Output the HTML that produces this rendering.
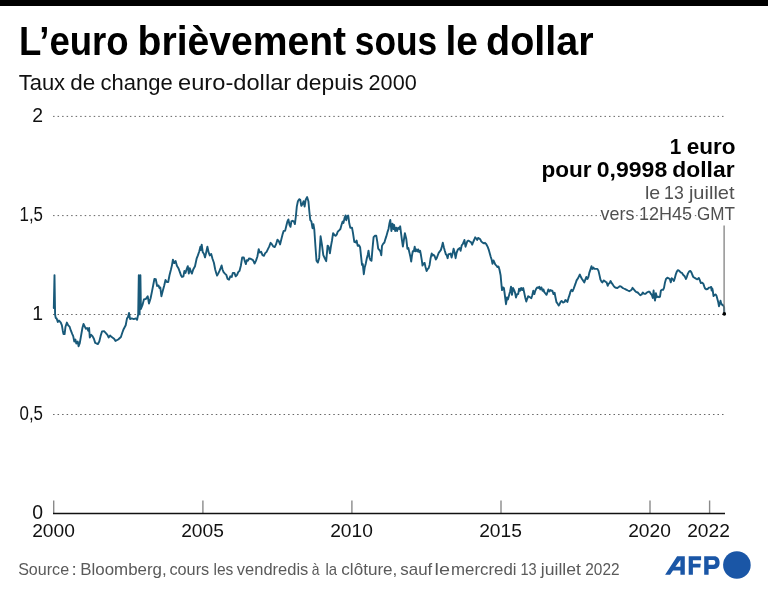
<!DOCTYPE html>
<html><head><meta charset="utf-8"><title>L’euro brièvement sous le dollar</title>
<style>
html,body{margin:0;padding:0;background:#fff;}
body{width:768px;height:593px;overflow:hidden;}
svg{display:block;font-family:"Liberation Sans", sans-serif;will-change:transform;}
</style></head><body>
<svg width="768" height="593" viewBox="0 0 768 593">
<rect x="0" y="0" width="768" height="593" fill="#fff"/>
<rect x="0" y="0" width="768" height="6" fill="#000"/>
<g font-size="40" font-weight="bold" fill="#000">
<text x="19.03" y="54.7" textLength="109.66" lengthAdjust="spacingAndGlyphs">L’euro</text>
<text x="137.56" y="54.7" textLength="208.55" lengthAdjust="spacingAndGlyphs">brièvement</text>
<text x="354.86" y="54.7" textLength="82.40" lengthAdjust="spacingAndGlyphs">sous</text>
<text x="445.48" y="54.7" textLength="32.45" lengthAdjust="spacingAndGlyphs">le</text>
<text x="486.12" y="54.7" textLength="107.48" lengthAdjust="spacingAndGlyphs">dollar</text>
</g>
<g font-size="21.5" fill="#111">
<text x="18.69" y="89.7" textLength="46.43" lengthAdjust="spacingAndGlyphs">Taux</text>
<text x="70.36" y="89.7" textLength="25.00" lengthAdjust="spacingAndGlyphs">de</text>
<text x="100.58" y="89.7" textLength="72.18" lengthAdjust="spacingAndGlyphs">change</text>
<text x="178.01" y="89.7" textLength="113.21" lengthAdjust="spacingAndGlyphs">euro-dollar</text>
<text x="295.94" y="89.7" textLength="67.47" lengthAdjust="spacingAndGlyphs">depuis</text>
<text x="368.59" y="89.7" textLength="48.14" lengthAdjust="spacingAndGlyphs">2000</text>
</g>
<g stroke="#666" stroke-width="1" stroke-dasharray="1.5 3.02" fill="none">
<line x1="53.05" y1="116.4" x2="725" y2="116.4"/>
<line x1="53.05" y1="215.6" x2="725" y2="215.6"/>
<line x1="53.05" y1="314.5" x2="725" y2="314.5"/>
<line x1="53.05" y1="414.5" x2="725" y2="414.5"/>
</g>
<g font-size="19.4" fill="#111" text-anchor="end">
<text x="43" y="121.5">2</text>
<text x="43" y="221" textLength="23.5" lengthAdjust="spacingAndGlyphs">1,5</text>
<text x="43" y="319.9">1</text>
<text x="43" y="419.8" textLength="23.5" lengthAdjust="spacingAndGlyphs">0,5</text>
<text x="43" y="518.7">0</text>
</g>
<g stroke="#8a8a8a" stroke-width="1.4">
<line x1="53.7" y1="500.5" x2="53.7" y2="513"/>
<line x1="202.9" y1="500.5" x2="202.9" y2="513"/>
<line x1="351.9" y1="500.5" x2="351.9" y2="513"/>
<line x1="501" y1="500.5" x2="501" y2="513"/>
<line x1="650" y1="500.5" x2="650" y2="513"/>
<line x1="709.6" y1="500.5" x2="709.6" y2="513"/>
</g>
<line x1="53" y1="513.5" x2="725" y2="513.5" stroke="#111" stroke-width="1.3"/>
<g font-size="19.2" fill="#111" text-anchor="middle">
<text x="53.5" y="537.4">2000</text>
<text x="202.5" y="537.4">2005</text>
<text x="351.5" y="537.4">2010</text>
<text x="500.5" y="537.4">2015</text>
<text x="649.5" y="537.4">2020</text>
<text x="708.5" y="537.4">2022</text>
</g>
<path d="M53.8,308.0 L54.5,275.1 L55.1,314.5 L55.7,317.9 L56.7,318.6 L57.8,322.0 L58.8,320.6 L59.7,321.3 L60.8,322.6 L61.9,325.3 L62.8,330.7 L63.5,334.1 L64.6,334.1 L65.5,326.7 L66.9,322.6 L68.2,325.3 L69.6,326.7 L70.9,330.7 L72.3,334.1 L73.2,336.1 L74.3,341.5 L75.4,339.5 L76.3,343.5 L77.7,341.5 L78.6,346.2 L79.7,343.5 L81.0,336.1 L82.4,328.0 L83.5,324.0 L84.8,326.7 L85.8,328.7 L87.1,328.0 L88.2,330.7 L89.1,328.0 L89.8,337.5 L91.2,334.8 L92.5,336.1 L93.9,338.8 L95.2,342.9 L96.6,343.5 L97.9,344.0 L99.3,341.5 L100.6,336.1 L102.0,331.4 L104.1,331.2 L106.1,333.3 L107.4,334.8 L108.7,337.5 L110.1,335.5 L111.4,336.8 L114.1,338.8 L115.5,340.9 L118.2,339.5 L120.9,337.0 L122.2,333.0 L123.6,329.2 L125.7,325.2 L127.0,318.4 L128.0,317.1 L129.0,313.0 L130.1,319.1 L131.7,318.4 L133.8,319.1 L135.8,318.4 L137.1,319.8 L138.2,314.4 L138.8,275.2 L139.6,314.4 L140.4,275.2 L140.9,309.0 L142.5,304.9 L143.9,299.5 L145.9,298.9 L147.7,296.2 L149.0,303.6 L150.6,298.2 L152.0,291.4 L153.3,284.7 L154.4,279.0 L155.8,279.3 L157.1,286.0 L158.5,285.4 L159.4,288.0 L160.3,287.4 L161.4,296.2 L162.8,290.8 L164.1,286.0 L165.5,280.0 L166.8,282.0 L168.2,282.0 L169.5,275.2 L170.9,269.8 L172.0,265.1 L172.9,259.7 L174.2,263.1 L175.6,261.1 L176.9,265.8 L178.4,268.2 L179.7,271.6 L181.1,275.6 L182.0,277.0 L183.4,276.3 L184.4,270.9 L185.5,272.9 L186.5,269.5 L187.8,266.2 L188.8,273.6 L189.8,268.2 L190.9,271.6 L191.9,273.6 L193.2,269.5 L195.0,266.2 L196.6,258.7 L197.9,255.4 L199.3,251.3 L200.4,246.6 L201.0,250.0 L201.7,244.6 L202.7,252.0 L204.0,254.0 L205.0,257.4 L206.0,253.3 L207.4,246.6 L208.7,252.7 L209.8,255.4 L211.2,254.0 L212.5,258.7 L213.9,262.8 L215.2,269.5 L216.2,272.9 L217.1,275.6 L218.2,273.6 L219.5,270.9 L220.6,268.2 L221.6,265.5 L222.5,269.5 L223.6,272.2 L224.9,273.6 L226.3,274.9 L227.6,279.0 L229.0,279.7 L230.3,276.3 L231.7,277.0 L232.8,272.9 L234.4,272.9 L235.7,276.3 L237.1,274.9 L238.2,272.2 L239.5,270.9 L240.9,265.5 L242.2,257.4 L243.8,257.4 L244.9,261.4 L245.9,264.1 L246.8,260.1 L247.9,260.8 L249.0,258.5 L250.3,258.7 L251.7,259.4 L253.0,260.1 L254.6,263.5 L256.0,260.6 L257.4,256.5 L258.7,249.1 L259.8,252.5 L261.2,251.8 L262.5,255.2 L263.9,255.8 L265.2,253.2 L266.6,251.8 L267.9,249.1 L269.3,246.4 L270.6,242.8 L272.0,244.4 L273.3,246.4 L274.7,247.1 L276.0,244.4 L277.4,239.7 L278.7,241.0 L280.1,244.4 L281.4,239.0 L282.8,233.6 L283.7,230.9 L285.1,230.9 L286.4,225.5 L287.4,221.4 L288.4,219.4 L289.5,224.8 L290.5,226.8 L291.4,221.4 L292.5,220.8 L293.8,221.4 L294.9,224.1 L295.9,216.0 L296.8,206.6 L297.9,201.2 L299.2,199.2 L300.3,199.8 L301.3,205.9 L302.6,203.9 L303.6,201.2 L304.6,206.6 L305.7,199.8 L307.1,197.1 L308.4,201.2 L309.4,212.0 L310.3,220.1 L311.4,221.4 L312.5,228.2 L313.4,224.1 L314.3,229.5 L315.4,245.7 L316.5,260.6 L317.9,262.6 L319.2,257.9 L320.6,236.3 L321.9,244.4 L323.3,255.2 L324.9,258.5 L326.2,261.2 L327.6,245.7 L328.3,246.0 L329.1,248.6 L329.9,253.3 L331.0,245.9 L332.0,240.5 L333.1,233.1 L334.5,235.1 L335.8,235.8 L336.8,234.4 L337.7,231.7 L339.1,230.4 L340.4,229.0 L341.5,225.0 L342.6,221.6 L343.5,222.9 L344.5,218.2 L345.5,215.5 L346.2,220.2 L347.2,216.2 L348.2,215.5 L349.3,223.6 L350.3,227.7 L352.0,227.7 L353.0,233.1 L354.3,241.8 L355.7,242.5 L356.6,240.5 L357.7,245.9 L359.0,245.2 L360.1,247.2 L361.1,256.7 L362.0,264.8 L362.8,264.1 L363.8,274.2 L364.7,267.5 L365.8,263.4 L366.9,258.0 L367.8,254.7 L368.5,250.6 L369.6,258.0 L370.5,260.1 L371.5,260.7 L372.5,248.6 L373.6,237.1 L375.0,235.8 L376.3,235.8 L377.3,241.8 L378.2,248.6 L379.3,249.9 L380.4,251.3 L381.3,255.3 L382.0,245.9 L383.1,243.9 L384.4,242.5 L385.4,239.1 L386.3,236.4 L387.4,232.4 L388.5,229.0 L389.4,223.6 L390.3,220.0 L391.4,231.0 L392.5,223.6 L393.5,229.0 L394.1,225.0 L395.2,231.0 L396.2,227.7 L397.1,231.0 L398.2,227.7 L399.3,229.0 L400.2,226.3 L401.1,233.7 L402.0,240.5 L402.9,246.6 L403.8,240.5 L404.9,233.1 L406.3,239.0 L407.4,248.7 L408.4,248.1 L409.3,252.1 L410.4,256.8 L411.2,261.6 L412.0,255.5 L412.8,251.2 L413.8,251.4 L414.7,246.7 L415.5,251.4 L416.5,249.4 L417.4,251.4 L418.2,249.4 L419.2,252.1 L420.1,250.8 L420.9,254.8 L421.9,260.9 L422.5,265.6 L423.6,263.6 L424.6,262.9 L425.5,267.0 L426.6,271.0 L427.7,269.0 L428.6,268.3 L429.6,264.9 L430.6,258.2 L431.7,253.5 L432.7,255.5 L433.6,254.8 L434.7,256.2 L435.8,259.5 L436.7,258.2 L437.7,255.5 L438.7,252.8 L439.8,251.4 L440.8,250.1 L441.7,247.4 L442.8,242.7 L443.9,247.4 L444.8,250.8 L445.8,254.1 L446.8,255.5 L447.6,258.2 L448.5,254.1 L449.5,254.1 L450.6,253.5 L451.6,257.5 L452.5,254.1 L453.6,248.7 L454.7,252.8 L455.6,258.2 L456.6,252.8 L457.6,250.1 L458.7,248.7 L459.7,248.1 L460.6,250.8 L461.7,245.4 L462.8,244.0 L463.7,242.0 L464.4,240.0 L465.5,246.7 L466.4,244.0 L467.3,241.3 L468.4,240.6 L469.5,241.3 L470.9,242.0 L472.2,244.7 L473.2,242.0 L474.1,240.0 L475.2,237.3 L476.3,238.6 L477.2,240.0 L478.1,237.9 L479.2,238.6 L480.3,239.3 L481.2,241.3 L482.6,242.7 L483.9,243.3 L485.0,242.8 L486.3,244.2 L487.7,246.9 L488.7,249.6 L489.8,253.6 L490.8,257.0 L491.7,259.7 L492.5,263.8 L493.5,260.4 L494.4,262.4 L495.2,264.4 L496.6,265.8 L497.5,267.1 L498.5,266.5 L499.5,269.8 L500.6,275.2 L501.2,282.0 L502.0,290.1 L502.9,287.4 L503.9,288.0 L504.9,295.5 L506.0,304.2 L507.0,297.5 L507.9,299.5 L509.0,295.5 L510.1,291.4 L511.0,286.7 L512.0,294.8 L513.0,288.0 L514.1,290.1 L515.1,292.8 L516.0,297.5 L517.1,294.1 L518.2,294.1 L519.1,288.7 L520.1,290.8 L521.1,288.0 L522.2,290.1 L523.2,288.0 L524.1,292.1 L525.2,297.5 L526.3,301.5 L527.2,298.8 L528.2,296.2 L529.2,296.8 L530.3,297.5 L531.3,298.2 L532.2,295.5 L533.3,290.8 L534.4,294.1 L535.3,290.8 L536.3,288.7 L537.3,287.4 L538.4,288.0 L539.4,286.7 L540.3,289.4 L541.4,287.4 L542.5,290.8 L543.4,289.4 L544.3,292.1 L545.4,293.5 L546.5,294.8 L547.5,292.1 L548.4,289.4 L549.5,291.4 L550.6,290.1 L551.5,290.8 L552.4,290.8 L553.5,294.1 L554.6,292.8 L555.5,297.5 L556.5,302.2 L557.6,303.6 L558.7,305.6 L559.6,304.2 L560.5,302.2 L561.6,300.9 L563.1,302.6 L564.5,302.0 L565.4,300.0 L566.4,300.6 L567.4,302.0 L568.5,297.9 L569.5,295.2 L570.4,291.8 L571.5,289.8 L572.6,291.2 L573.5,289.1 L574.5,286.4 L575.5,283.7 L576.6,280.4 L578.0,278.3 L579.3,275.6 L579.9,274.6 L580.9,277.0 L582.0,279.0 L583.0,280.4 L584.3,282.4 L585.3,279.7 L586.3,277.0 L587.4,279.0 L588.4,277.0 L589.3,272.9 L590.4,269.6 L591.5,266.2 L592.4,268.9 L593.4,267.5 L594.4,268.9 L595.8,268.9 L597.4,268.9 L598.5,270.9 L599.6,275.6 L600.5,279.7 L601.5,281.7 L602.5,282.4 L603.6,280.4 L604.6,281.0 L605.5,281.7 L606.6,282.4 L607.7,285.8 L608.6,283.7 L609.6,283.1 L610.6,281.0 L611.7,283.1 L612.7,284.4 L613.6,285.8 L614.7,287.1 L616.0,287.8 L617.4,288.1 L618.7,287.1 L619.8,286.2 L621.2,286.7 L622.5,287.8 L623.9,288.5 L625.2,289.1 L626.6,289.8 L627.9,290.5 L629.3,291.2 L630.6,290.5 L631.5,289.8 L632.5,287.8 L633.6,289.1 L634.7,290.5 L636.0,291.8 L637.7,292.5 L639.0,293.9 L640.4,295.2 L641.7,294.5 L642.8,292.5 L644.2,293.9 L645.5,293.9 L646.9,292.5 L648.2,291.8 L649.6,291.8 L650.9,293.9 L651.9,295.2 L652.8,297.9 L653.6,290.5 L654.2,296.6 L655.0,300.6 L655.9,293.2 L656.9,297.2 L657.9,296.6 L659.0,297.2 L660.0,296.6 L660.9,290.5 L662.0,289.8 L663.1,289.8 L664.0,287.8 L665.0,282.4 L666.0,279.0 L667.4,277.7 L668.7,278.3 L669.8,279.0 L670.8,282.4 L671.7,278.3 L672.8,279.0 L673.9,281.0 L674.8,278.3 L675.8,274.3 L676.8,271.6 L677.9,270.2 L679.3,270.9 L680.6,272.3 L682.0,272.9 L683.3,275.0 L684.7,276.3 L686.0,279.0 L687.0,276.3 L687.9,273.6 L689.0,271.6 L690.3,270.9 L691.4,272.3 L692.4,275.0 L693.3,277.0 L694.4,277.7 L695.5,278.3 L696.4,279.0 L697.3,279.4 L698.8,278.0 L699.6,279.7 L700.9,283.1 L702.2,282.6 L703.4,283.9 L704.4,286.9 L705.1,288.5 L706.4,289.4 L707.6,289.0 L708.9,287.7 L710.2,287.3 L711.2,286.9 L711.6,290.5 L712.2,288.3 L712.7,290.2 L713.5,296.1 L714.6,294.9 L715.7,294.5 L716.5,295.7 L717.3,298.7 L718.2,302.0 L719.0,306.3 L719.9,303.7 L720.5,300.8 L721.1,303.3 L722.0,304.6 L723.2,305.4 L724.1,307.1 L724.3,313.8" fill="none" stroke="#185979" stroke-width="1.9" stroke-linejoin="round" stroke-linecap="round"/>
<line x1="724.1" y1="225.6" x2="724.1" y2="313.8" stroke="#777" stroke-width="1.2"/>
<circle cx="724.3" cy="313.9" r="1.8" fill="#000"/>
<g font-size="21.5" font-weight="bold" fill="#000">
<text x="669.65" y="153.6" textLength="11.48" lengthAdjust="spacingAndGlyphs">1</text>
<text x="686.76" y="153.6" textLength="48.87" lengthAdjust="spacingAndGlyphs">euro</text>
<text x="541.43" y="177.3" textLength="50.15" lengthAdjust="spacingAndGlyphs">pour</text>
<text x="596.74" y="177.3" textLength="70.47" lengthAdjust="spacingAndGlyphs">0,9998</text>
<text x="672.34" y="177.3" textLength="62.21" lengthAdjust="spacingAndGlyphs">dollar</text>
</g>
<g font-size="19" fill="#505050">
<text x="644.96" y="198.7" textLength="15.26" lengthAdjust="spacingAndGlyphs" stroke="#fff" stroke-width="3" paint-order="stroke">le</text>
<text x="664.10" y="198.7" textLength="19.68" lengthAdjust="spacingAndGlyphs" stroke="#fff" stroke-width="3" paint-order="stroke">13</text>
<text x="688.93" y="198.7" textLength="45.68" lengthAdjust="spacingAndGlyphs" stroke="#fff" stroke-width="3" paint-order="stroke">juillet</text>
<text x="600.61" y="219.6" textLength="33.75" lengthAdjust="spacingAndGlyphs" stroke="#fff" stroke-width="3" paint-order="stroke">vers</text>
<text x="638.97" y="219.6" textLength="53.08" lengthAdjust="spacingAndGlyphs" stroke="#fff" stroke-width="3" paint-order="stroke">12H45</text>
<text x="697.09" y="219.6" textLength="37.98" lengthAdjust="spacingAndGlyphs" stroke="#fff" stroke-width="3" paint-order="stroke">GMT</text>
</g>
<g font-size="17" fill="#5a5a5a">
<text x="18.14" y="575" textLength="50.98" lengthAdjust="spacingAndGlyphs">Source</text>
<text x="71.62" y="575" textLength="5.28" lengthAdjust="spacingAndGlyphs">:</text>
<text x="80.31" y="575" textLength="86.42" lengthAdjust="spacingAndGlyphs">Bloomberg,</text>
<text x="169.43" y="575" textLength="39.82" lengthAdjust="spacingAndGlyphs">cours</text>
<text x="213.49" y="575" textLength="19.88" lengthAdjust="spacingAndGlyphs">les</text>
<text x="236.80" y="575" textLength="71.59" lengthAdjust="spacingAndGlyphs">vendredis</text>
<text x="311.73" y="575" textLength="7.74" lengthAdjust="spacingAndGlyphs">à</text>
<text x="325.44" y="575" textLength="11.60" lengthAdjust="spacingAndGlyphs">la</text>
<text x="341.30" y="575" textLength="56.06" lengthAdjust="spacingAndGlyphs">clôture,</text>
<text x="400.30" y="575" textLength="31.93" lengthAdjust="spacingAndGlyphs">sauf</text>
<text x="434.62" y="575" textLength="15.44" lengthAdjust="spacingAndGlyphs">le</text>
<text x="451.11" y="575" textLength="65.40" lengthAdjust="spacingAndGlyphs">mercredi</text>
<text x="520.48" y="575" textLength="16.22" lengthAdjust="spacingAndGlyphs">13</text>
<text x="540.81" y="575" textLength="40.13" lengthAdjust="spacingAndGlyphs">juillet</text>
<text x="585.28" y="575" textLength="34.27" lengthAdjust="spacingAndGlyphs">2022</text>
</g>
<g fill="#1a56a6">
<path fill-rule="evenodd" d="M665.1,574.8 L677.1,556.2 L684.8,556.2 L684.8,574.8 L680.4,574.8 L680.4,570.4 L673,570.4 L670.1,574.8 Z M680.4,559.9 L675.4,566.7 L680.4,566.7 Z"/>
<path d="M688.7,556.2 L701.1,556.2 L701.1,560.3 L692.9,560.3 L692.9,563.7 L700.7,563.7 L700.3,567.6 L692.9,567.6 L692.9,574.8 L688.7,574.8 Z"/>
<path fill-rule="evenodd" d="M704.2,556.2 L714.2,556.2 C717.6,556.2 719.6,558.6 719.6,562.6 C719.6,566.6 717.6,568.9 714.2,568.9 L708.6,568.9 L708.6,574.8 L704.2,574.8 Z M708.6,559.9 L713.4,559.9 C714.8,559.9 715.3,561 715.3,562.3 C715.3,563.6 714.8,564.7 713.4,564.7 L708.6,564.7 Z"/>
<circle cx="736.9" cy="565.05" r="13.8"/>
</g>
</svg>
</body></html>
